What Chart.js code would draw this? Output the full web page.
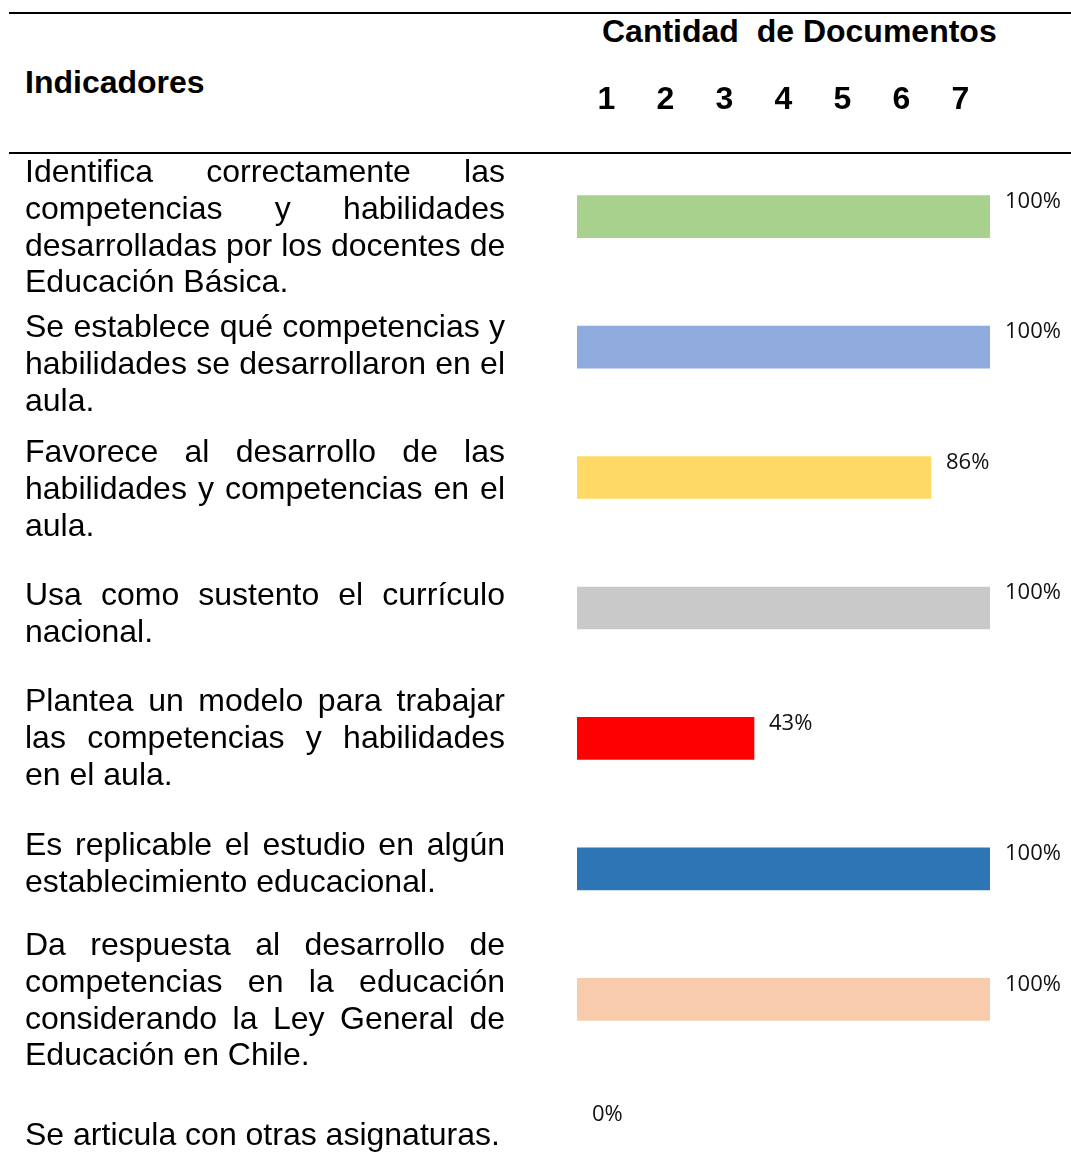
<!DOCTYPE html>
<html>
<head>
<meta charset="utf-8">
<title>Cantidad de Documentos por indicador</title>
<script src="https://cdn.jsdelivr.net/npm/chart.js"></script>
<style>
    html, body { margin: 0; padding: 0; background: #fff; }
    body { width: 1071px; height: 1152px; overflow: hidden; position: relative; font-family: "Liberation Sans", Arial, sans-serif; color: #000; }
    .rule { position: absolute; left: 9px; right: 0; height: 2px; background: #000; }
    .head { position: absolute; font-weight: bold; font-size: 32px; line-height: 36.8px; white-space: pre; }
    .ind { position: absolute; left: 25px; width: 480px; font-size: 32px; line-height: 36.8px; }
    .ind div { text-align: justify; text-align-last: justify; white-space: nowrap; }
    .ind div:last-child { text-align: left; text-align-last: left; }
    #wrap { position: absolute; left: 0; top: 0; width: 1071px; height: 1195px; }
</style>
</head>
<body>
<div class="rule" style="top:12px"></div>
<div class="rule" style="top:152px"></div>
<div class="head" style="left:25px; top:64px">Indicadores</div>
<div class="head" style="left:602px; top:13px">Cantidad  de Documentos</div>
<div id="wrap"><canvas id="chart"></canvas></div>
<div id="texts"></div>
<script>
// indicadores (lineas tal como aparecen en la tabla)
const indicadores = [
    ['Identifica correctamente las', 'competencias y habilidades', 'desarrolladas por los docentes de', 'Educación Básica.'],
    ['Se establece qué competencias y', 'habilidades se desarrollaron en el', 'aula.'],
    ['Favorece al desarrollo de las', 'habilidades y competencias en el', 'aula.'],
    ['Usa como sustento el currículo', 'nacional.'],
    ['Plantea un modelo para trabajar', 'las competencias y habilidades', 'en el aula.'],
    ['Es replicable el estudio en algún', 'establecimiento educacional.'],
    ['Da respuesta al desarrollo de', 'competencias en la educación', 'considerando la Ley General de', 'Educación en Chile.'],
    ['Se articula con otras asignaturas.']
];
const documentos = [7, 7, 6, 7, 3, 7, 7, 0];
const totalDocs = 7;
const docTicks = ['1', '2', '3', '4', '5', '6', '7'];
const colores = ['#A9D18E', '#8FAADC', '#FFD966', '#C9C9C9', '#FF0000', '#2E75B6', '#F8CBAD', '#FFFFFF'];

// texto de la columna izquierda
const textTops = [153, 308, 433, 576, 682, 826, 926, 1116];
const box = document.getElementById('texts');
indicadores.forEach((lines, i) => {
    const d = document.createElement('div');
    d.className = 'ind';
    d.style.top = textTops[i] + 'px';
    lines.forEach(l => {
        const ln = document.createElement('div');
        ln.textContent = l;
        d.appendChild(ln);
    });
    box.appendChild(d);
});

const pctLabels = {
    id: 'pctLabels',
    afterDatasetsDraw(chart) {
        const ctx = chart.ctx;
        const meta = chart.getDatasetMeta(0);
        ctx.save();
        ctx.font = '22px "Open Sans", sans-serif';
        ctx.fillStyle = '#111';
        ctx.textAlign = 'left';
        ctx.textBaseline = 'middle';
        meta.data.forEach((bar, i) => {
            const pct = Math.round(documentos[i] / totalDocs * 100) + '%';
            ctx.fillText(pct, bar.x + 15, bar.y - 15);
        });
        ctx.restore();
    }
};

new Chart(document.getElementById('chart'), {
    type: 'bar',
    data: {
        labels: indicadores.map(l => l.join(' ')),
        datasets: [{
            data: documentos,
            backgroundColor: colores,
            borderWidth: 0,
            barThickness: 42
        }]
    },
    options: {
        indexAxis: 'y',
        responsive: true,
        maintainAspectRatio: false,
        animation: false,
        layout: { padding: { left: 577, right: 81, top: 49, bottom: 0 } },
        plugins: { legend: { display: false }, tooltip: { enabled: false } },
        scales: {
            x: {
                position: 'top',
                min: 0,
                max: totalDocs,
                grid: { display: false, drawTicks: false },
                border: { display: false },
                afterBuildTicks: s => { s.ticks = docTicks.map((t, i) => ({ value: i + 0.5 })); },
                ticks: {
                    autoSkip: false,
                    maxRotation: 0,
                    padding: 32,
                    color: '#000',
                    font: { family: '"Liberation Sans", Arial, sans-serif', size: 32, weight: 'bold' },
                    callback: (v, i) => docTicks[i]
                }
            },
            y: {
                display: false,
                grid: { display: false }
            }
        }
    },
    plugins: [pctLabels]
});
</script>
</body>
</html>
